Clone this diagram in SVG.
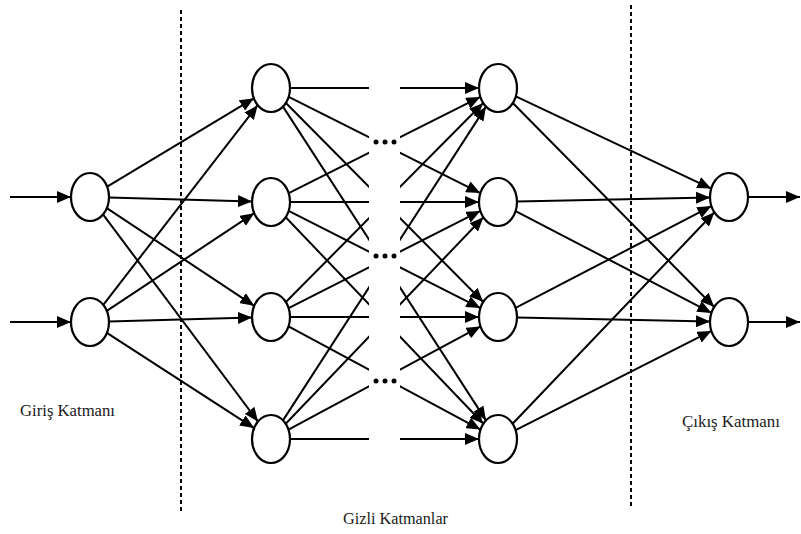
<svg xmlns="http://www.w3.org/2000/svg" width="801" height="534" viewBox="0 0 801 534">
  <style>
    .node { fill: #ffffff; stroke: #000000; stroke-width: 2.2; }
    .edge { fill: none; stroke: #000000; stroke-width: 2; marker-end: url(#arrow); }
    .divider { stroke: #000000; stroke-width: 2; stroke-dasharray: 4 3; fill: none; }
    .dot { fill: #000000; }
    .label { font-family: "Liberation Serif", "DejaVu Serif", serif; font-size: 17px; fill: #1a1a1a; }
  </style>
  <defs>
    <marker id="arrow" markerUnits="userSpaceOnUse" markerWidth="14" markerHeight="12" refX="14" refY="6" orient="auto">
      <path d="M0,0 L14,6 L0,12 z" fill="#000000"/>
    </marker>
    <!-- hides the middle band between the two hidden layers -->
    <mask id="gap" maskUnits="userSpaceOnUse" x="0" y="0" width="801" height="534">
      <rect x="0" y="0" width="801" height="534" fill="#ffffff"/>
      <rect x="369" y="0" width="31" height="534" fill="#000000"/>
    </mask>
  </defs>

  <!-- layer dividers -->
  <g id="dividers">
    <line class="divider" x1="181" y1="10" x2="181" y2="512"/>
    <line class="divider" x1="631" y1="5" x2="631" y2="508"/>
  </g>

  <g id="connectors">
    <!-- inputs -->
    <line class="edge" x1="10" y1="197" x2="71" y2="197"/>
    <line class="edge" x1="10" y1="322" x2="71" y2="322"/>

    <!-- input layer to first hidden layer -->
    <line class="edge" x1="107.2" y1="186.7" x2="253.9" y2="98.3"/>
    <line class="edge" x1="109" y1="197.5" x2="252" y2="201.5"/>
    <line class="edge" x1="106.8" y1="208.2" x2="254.2" y2="305.8"/>
    <line class="edge" x1="103" y1="214.4" x2="258" y2="421.6"/>
    <line class="edge" x1="103.3" y1="304.8" x2="257.7" y2="105.2"/>
    <line class="edge" x1="106.8" y1="310.8" x2="254.2" y2="213.2"/>
    <line class="edge" x1="109" y1="321.5" x2="252" y2="317.5"/>
    <line class="edge" x1="106.9" y1="332.9" x2="254.1" y2="428.1"/>

    <!-- first hidden layer to last hidden layer (broken in the middle) -->
    <g mask="url(#gap)">
      <line class="edge" x1="290" y1="88" x2="479" y2="88"/>
      <line class="edge" x1="288.7" y1="96.9" x2="480.3" y2="193.1"/>
      <line class="edge" x1="285.9" y1="103" x2="483.2" y2="302"/>
      <line class="edge" x1="283" y1="106.6" x2="486" y2="420.4"/>

      <line class="edge" x1="288.7" y1="193.1" x2="480.3" y2="96.9"/>
      <line class="edge" x1="290" y1="202" x2="479" y2="202"/>
      <line class="edge" x1="288.6" y1="210.9" x2="480.4" y2="308.1"/>
      <line class="edge" x1="285.7" y1="217.3" x2="483.4" y2="423.7"/>

      <line class="edge" x1="285.9" y1="302" x2="483.2" y2="103"/>
      <line class="edge" x1="288.6" y1="308.1" x2="480.4" y2="210.9"/>
      <line class="edge" x1="290" y1="317" x2="479" y2="317"/>
      <line class="edge" x1="288.5" y1="326.4" x2="480.5" y2="429.6"/>

      <line class="edge" x1="283" y1="420.4" x2="486" y2="106.6"/>
      <line class="edge" x1="285.7" y1="423.7" x2="483.4" y2="217.3"/>
      <line class="edge" x1="288.5" y1="429.6" x2="480.5" y2="326.4"/>
      <line class="edge" x1="290" y1="439" x2="479" y2="439"/>
    </g>

    <!-- last hidden layer to output layer -->
    <line class="edge" x1="515.8" y1="96.4" x2="711.2" y2="188.6"/>
    <line class="edge" x1="512.8" y1="103" x2="714.2" y2="307"/>
    <line class="edge" x1="517" y1="201.6" x2="710" y2="197.4"/>
    <line class="edge" x1="515.6" y1="211.1" x2="711.4" y2="312.9"/>
    <line class="edge" x1="515.6" y1="307.9" x2="711.4" y2="206.1"/>
    <line class="edge" x1="517" y1="317.4" x2="710" y2="321.6"/>
    <line class="edge" x1="512.6" y1="423.7" x2="714.4" y2="212.3"/>
    <line class="edge" x1="515.6" y1="430.1" x2="711.4" y2="330.9"/>

    <!-- outputs -->
    <line class="edge" x1="748" y1="197" x2="800" y2="197"/>
    <line class="edge" x1="748" y1="322" x2="800" y2="322"/>
  </g>

  <!-- ellipsis marks for the omitted hidden layers -->
  <g id="ellipsis">
    <circle class="dot" cx="376" cy="142" r="2.5"/>
    <circle class="dot" cx="385" cy="142" r="2.5"/>
    <circle class="dot" cx="394" cy="142" r="2.5"/>
    <circle class="dot" cx="376" cy="256" r="2.5"/>
    <circle class="dot" cx="385" cy="256" r="2.5"/>
    <circle class="dot" cx="394" cy="256" r="2.5"/>
    <circle class="dot" cx="376" cy="381" r="2.5"/>
    <circle class="dot" cx="385" cy="381" r="2.5"/>
    <circle class="dot" cx="394" cy="381" r="2.5"/>
  </g>

  <!-- input layer -->
  <g id="in1"><ellipse class="node" cx="90" cy="197" rx="19" ry="24"/></g>
  <g id="in2"><ellipse class="node" cx="90" cy="322" rx="19" ry="24"/></g>

  <!-- first hidden layer -->
  <g id="h1a"><ellipse class="node" cx="271" cy="88" rx="19" ry="24"/></g>
  <g id="h1b"><ellipse class="node" cx="271" cy="202" rx="19" ry="24"/></g>
  <g id="h1c"><ellipse class="node" cx="271" cy="317" rx="19" ry="24"/></g>
  <g id="h1d"><ellipse class="node" cx="271" cy="439" rx="19" ry="24"/></g>

  <!-- last hidden layer -->
  <g id="h2a"><ellipse class="node" cx="498" cy="88" rx="19" ry="24"/></g>
  <g id="h2b"><ellipse class="node" cx="498" cy="202" rx="19" ry="24"/></g>
  <g id="h2c"><ellipse class="node" cx="498" cy="317" rx="19" ry="24"/></g>
  <g id="h2d"><ellipse class="node" cx="498" cy="439" rx="19" ry="24"/></g>

  <!-- output layer -->
  <g id="out1"><ellipse class="node" cx="729" cy="197" rx="19" ry="24"/></g>
  <g id="out2"><ellipse class="node" cx="729" cy="322" rx="19" ry="24"/></g>

  <!-- layer captions -->
  <g id="labels">
    <text class="label" x="20" y="416" textLength="95" lengthAdjust="spacingAndGlyphs">Giriş Katmanı</text>
    <text class="label" x="343" y="524" textLength="105" lengthAdjust="spacingAndGlyphs">Gizli Katmanlar</text>
    <text class="label" x="682" y="427" textLength="98" lengthAdjust="spacingAndGlyphs">Çıkış Katmanı</text>
  </g>
</svg>
